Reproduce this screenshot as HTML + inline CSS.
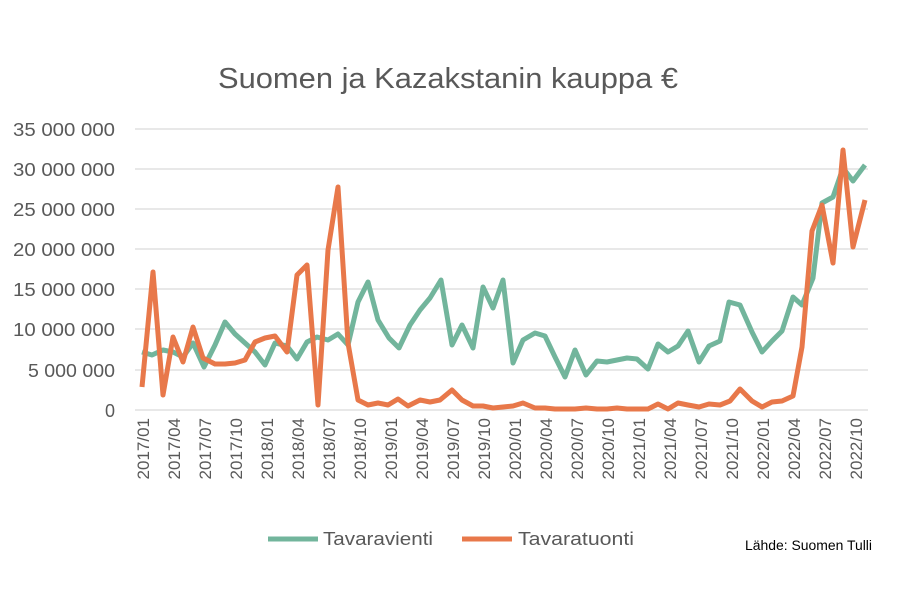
<!DOCTYPE html>
<html><head><meta charset="utf-8"><style>
body{margin:0;background:#fff;}
svg{display:block;font-family:"Liberation Sans",sans-serif;}
</style></head><body>
<svg width="900" height="600" viewBox="0 0 900 600">
<rect width="900" height="600" fill="#fff"/>
<text x="218" y="88" font-size="29" fill="#595959" textLength="460" lengthAdjust="spacingAndGlyphs">Suomen ja Kazakstanin kauppa €</text>
<g stroke="#d9d9d9" stroke-width="1.3">
<line x1="135" x2="868" y1="129" y2="129"/><line x1="135" x2="868" y1="169" y2="169"/>
<line x1="135" x2="868" y1="209" y2="209"/><line x1="135" x2="868" y1="249" y2="249"/>
<line x1="135" x2="868" y1="289" y2="289"/><line x1="135" x2="868" y1="329" y2="329"/>
<line x1="135" x2="868" y1="370" y2="370"/><line x1="135" x2="868" y1="410" y2="410"/>
</g>
<g font-size="18" fill="#595959" text-anchor="end">
<text x="115" y="136" textLength="102" lengthAdjust="spacingAndGlyphs">35 000 000</text><text x="115" y="176" textLength="102" lengthAdjust="spacingAndGlyphs">30 000 000</text>
<text x="115" y="216" textLength="102" lengthAdjust="spacingAndGlyphs">25 000 000</text><text x="115" y="256" textLength="102" lengthAdjust="spacingAndGlyphs">20 000 000</text>
<text x="115" y="296" textLength="102" lengthAdjust="spacingAndGlyphs">15 000 000</text><text x="115" y="336" textLength="102" lengthAdjust="spacingAndGlyphs">10 000 000</text>
<text x="115" y="377" textLength="87" lengthAdjust="spacingAndGlyphs">5 000 000</text><text x="115" y="417">0</text>
</g>
<g font-size="17" fill="#595959" text-anchor="end">
<text transform="translate(149,418) rotate(-90)">2017/01</text>
<text transform="translate(180,418) rotate(-90)">2017/04</text>
<text transform="translate(211,418) rotate(-90)">2017/07</text>
<text transform="translate(242,418) rotate(-90)">2017/10</text>
<text transform="translate(273,418) rotate(-90)">2018/01</text>
<text transform="translate(304,418) rotate(-90)">2018/04</text>
<text transform="translate(335,418) rotate(-90)">2018/07</text>
<text transform="translate(366,418) rotate(-90)">2018/10</text>
<text transform="translate(397,418) rotate(-90)">2019/01</text>
<text transform="translate(428,418) rotate(-90)">2019/04</text>
<text transform="translate(459,418) rotate(-90)">2019/07</text>
<text transform="translate(490,418) rotate(-90)">2019/10</text>
<text transform="translate(521,418) rotate(-90)">2020/01</text>
<text transform="translate(552,418) rotate(-90)">2020/04</text>
<text transform="translate(583,418) rotate(-90)">2020/07</text>
<text transform="translate(614,418) rotate(-90)">2020/10</text>
<text transform="translate(645,418) rotate(-90)">2021/01</text>
<text transform="translate(676,418) rotate(-90)">2021/04</text>
<text transform="translate(707,418) rotate(-90)">2021/07</text>
<text transform="translate(738,418) rotate(-90)">2021/10</text>
<text transform="translate(769,418) rotate(-90)">2022/01</text>
<text transform="translate(800,418) rotate(-90)">2022/04</text>
<text transform="translate(831,418) rotate(-90)">2022/07</text>
<text transform="translate(862,418) rotate(-90)">2022/10</text>
</g>
<polyline fill="none" stroke="#72b59c" stroke-width="5" stroke-linejoin="round" points="142,352 152,355 163,350 173,352 183,357 193,343 204,367 215,345 225,322 235,334 245,343 255,352 265,365 275,343 287,346 297,359 307,342 317,337 328,340 338,334 348,345 358,302 368,282 378,320 389,338 399,348 410,325 420,310 430,298 441,280 452,345 462,325 473,348 483,287 493,308 503,280 513,363 523,340 535,333 545,336 555,357 565,377 575,350 586,375 597,361 607,362 617,360 627,358 637,359 648,369 658,344 668,352 678,346 688,331 699,362 709,346 720,341 729,302 740,305 752,332 762,352 772,341 782,331 793,297 802,305 813,278 822,203 833,197 843,168 853,181 865,165"/>
<polyline fill="none" stroke="#e8784a" stroke-width="5" stroke-linejoin="round" points="142,387 153,272 163,395 173,337 183,362 193,327 203,358 215,364 225,364 235,363 245,360 255,342 265,338 275,336 287,352 297,275 307,265 318,405 328,250 338,187 348,343 358,400 368,405 378,403 388,405 398,399 408,406 420,400 430,402 440,400 452,390 462,400 473,406 483,406 493,408 503,407 513,406 523,403 535,408 545,408 555,409 565,409 575,409 586,408 597,409 607,409 617,408 627,409 637,409 648,409 658,404 668,409 678,403 688,405 699,407 709,404 720,405 730,401 740,389 752,401 762,407 772,402 782,401 793,396 802,347 812,231 822,205 833,263 843,150 853,247 865,200"/>
<line x1="268" x2="318" y1="539" y2="539" stroke="#72b59c" stroke-width="5"/>
<text x="323" y="545" font-size="18" fill="#595959" textLength="110" lengthAdjust="spacingAndGlyphs">Tavaravienti</text>
<line x1="462" x2="512" y1="539" y2="539" stroke="#e8784a" stroke-width="5"/>
<text x="518" y="545" font-size="18" fill="#595959" textLength="116" lengthAdjust="spacingAndGlyphs">Tavaratuonti</text>
<text x="745" y="550" font-size="13.5" fill="#000" textLength="127" lengthAdjust="spacingAndGlyphs">Lähde: Suomen Tulli</text>
</svg>
</body></html>
